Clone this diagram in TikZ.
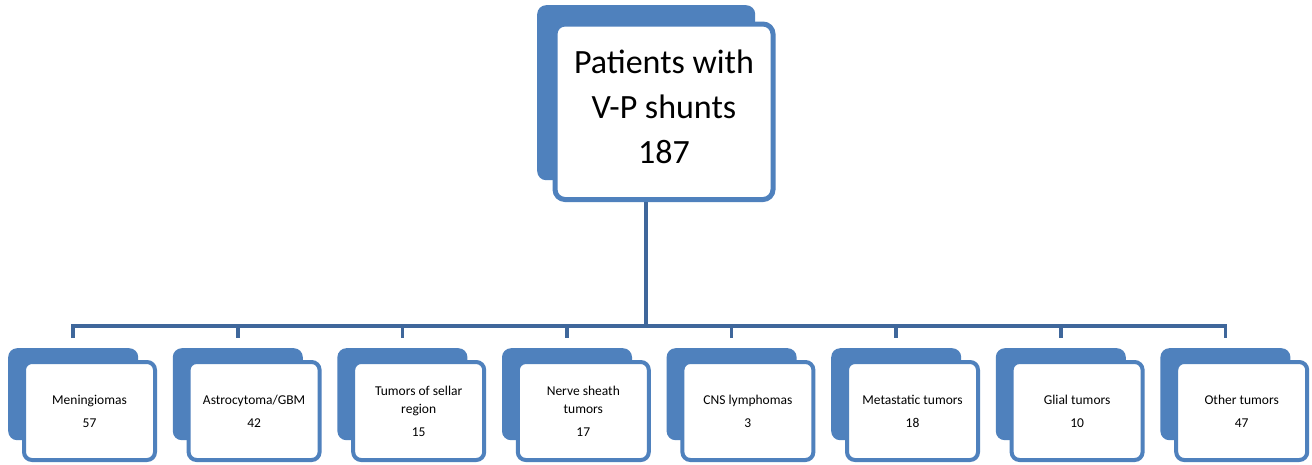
\documentclass[tikz,border=0pt]{standalone}
\usepackage{fontspec}
\setmainfont{Carlito}
\definecolor{boxblue}{HTML}{4F81BD}
\definecolor{lineblue}{HTML}{3F679B}
\begin{document}
\begin{tikzpicture}[x=1pt,y=-1pt,
  backbox/.style={fill=boxblue, rounded corners=9pt, anchor=north west, inner sep=0pt},
  frontbox/.style={fill=white, draw=boxblue, line width=4pt, rounded corners=8pt, anchor=north west, inner sep=0pt, align=center, font=\fontsize{13.5}{18}\selectfont},
  conn/.style={draw=lineblue, line width=3.5pt}]
\useasboundingbox[fill=white] (0,0) rectangle (1312,464);
% main box
\node[backbox, minimum width=218pt, minimum height=175pt] (mainback) at (537,5) {};
\node[frontbox, line width=5pt, rounded corners=10pt, minimum width=218pt, minimum height=175.5pt,
      font=\fontsize{34}{45}\selectfont] (main) at (552.5,21.5) {Patients with\\V-P shunts\\187\\[-35pt]};
% bottom boxes
\foreach \i/\t in {1/{Meningiomas\\[5pt]57},
                   2/{Astrocytoma/GBM\\[5pt]42},
                   3/{Tumors of sellar\\region\\[5pt]15},
                   4/{Nerve sheath\\tumors\\[5pt]17},
                   5/{CNS lymphomas\\[5pt]3},
                   6/{Metastatic tumors\\[5pt]18},
                   7/{Glial tumors\\[5pt]10},
                   8/{Other tumors\\[5pt]47}}{
  \pgfmathsetmacro{\xo}{8+164.6*(\i-1)}
  \node[backbox, minimum width=130pt, minimum height=92pt] (b\i) at (\xo,348) {};
  \node[frontbox, minimum width=131pt, minimum height=98pt] (f\i) at (\xo+14,360) {\t};
}
% connectors
\coordinate (bus) at (0,326);
\draw[conn] (main.south -| mainback.center) -- (bus -| mainback.center);
\draw[conn, line join=miter] ([yshift=10pt]b1.north) -- (bus -| b1.north) -- (bus -| b8.north) -- ([yshift=10pt]b8.north);
\foreach \i in {2,...,7}{
  \draw[conn] (bus -| b\i.north) -- ([yshift=10pt]b\i.north);
}
\end{tikzpicture}
\end{document}
